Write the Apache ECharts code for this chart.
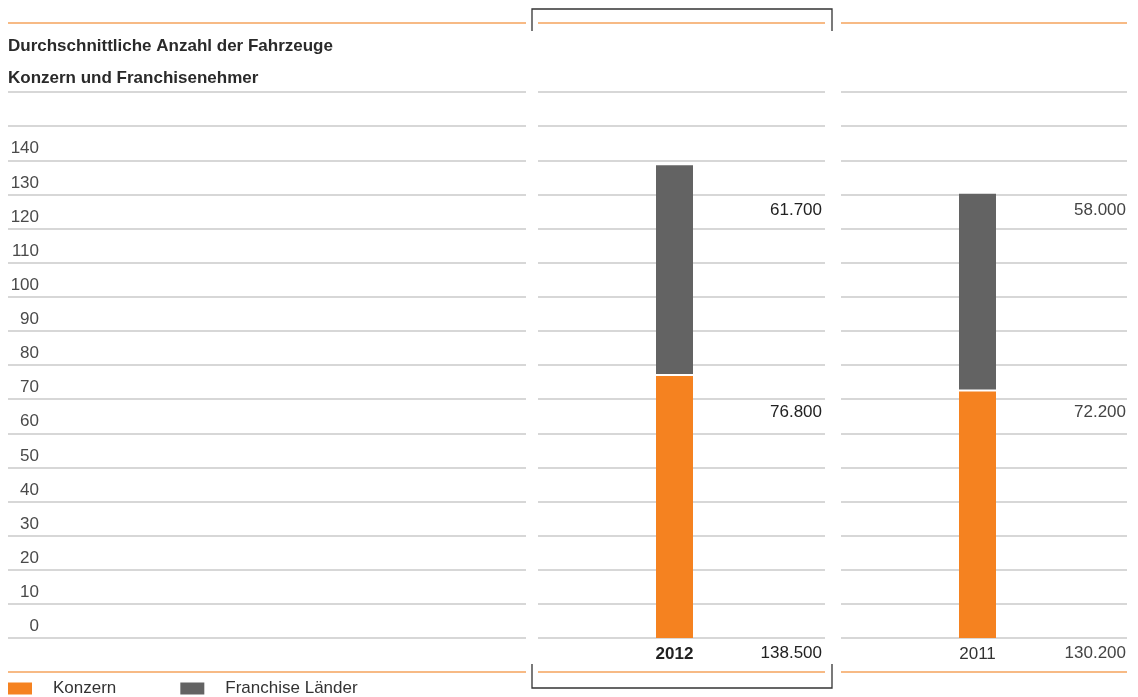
<!DOCTYPE html>
<html>
<head>
<meta charset="utf-8">
<script src="https://cdn.jsdelivr.net/npm/echarts@6/dist/echarts.min.js"></script>
<style>
  html, body { margin: 0; padding: 0; background: #fff; }
  #chart { width: 1138px; height: 697px; }
</style>
</head>
<body>
<div id="chart"></div>
<script>
// Fahrzeuge (Anzahl), je Jahr
const years = ['2012', '2011']
const konzern = [76800, 72200]
const franchise = [61700, 58000]
const seriesNames = ['Konzern', 'Franchise Länder']
const titleLines = ['Durchschnittliche Anzahl der Fahrzeuge', 'Konzern und Franchisenehmer']
// Achse in Tausend
const axisMax = 160
const axisStep = 10
const labelMax = 140

const ORANGE = '#f58220'
const GREY = '#636363'
const LINE_ORANGE = '#f5a35c'
const GRID_GREY = '#cacaca'
const FONT = 'Liberation Sans, Arial, sans-serif'

function fmt(n) {
  return String(n).replace(/\B(?=(\d{3})+(?!\d))/g, '.')
}

// Panels: left axis panel, one panel per year
const panelLeft = [538, 841]
const panelRight = [825, 1127]
const gridTop = 92
const gridBottom = 697 - 638

let grids = [{ left: 8, width: 518, top: gridTop, bottom: gridBottom }]
panelLeft.forEach((l, i) => {
  grids.push({ left: l, width: panelRight[i] - l, top: gridTop, bottom: gridBottom })
})
// bar grids, narrower so the bar sits a bit left of the panel centre
panelLeft.forEach(l => {
  grids.push({ left: l, width: 273, top: gridTop, bottom: gridBottom })
})

let xAxes = []
let yAxes = []
for (let i = 0; i < 3; i++) {
  xAxes.push({ type: 'value', gridIndex: i, show: false, min: 0, max: 1 })
  yAxes.push({
    type: 'value', gridIndex: i, min: 0, max: axisMax, interval: axisStep,
    axisLine: { show: false }, axisTick: { show: false },
    splitLine: { show: true, lineStyle: { color: GRID_GREY, width: 1.5 } },
    axisLabel: {
      show: i === 0, inside: true, margin: 31, align: 'right', verticalAlign: 'bottom',
      padding: [0, 0, 3, 0], fontSize: 17, fontFamily: FONT, color: '#4a4a4a',
      formatter: v => (v <= labelMax ? String(v) : '')
    }
  })
}
years.forEach((y, i) => {
  xAxes.push({
    type: 'category', gridIndex: 3 + i, data: [y],
    axisLine: { show: false }, axisTick: { show: false },
    axisLabel: {
      margin: 8, fontSize: 17, fontFamily: FONT,
      fontWeight: i === 0 ? 'bold' : 'normal', color: i === 0 ? '#222' : '#333'
    }
  })
  yAxes.push({ type: 'value', gridIndex: 3 + i, min: 0, max: axisMax, show: false, splitLine: { show: false } })
})

let series = []
years.forEach((y, i) => {
  series.push({
    name: seriesNames[0], type: 'bar', stack: 's' + i, barWidth: 37,
    xAxisIndex: 3 + i, yAxisIndex: 3 + i, z: 4,
    itemStyle: { color: ORANGE, shadowColor: '#fff', shadowBlur: 0, shadowOffsetY: -2 },
    data: [konzern[i] / 1000]
  })
  series.push({
    name: seriesNames[1], type: 'bar', stack: 's' + i, barWidth: 37,
    xAxisIndex: 3 + i, yAxisIndex: 3 + i, z: 3,
    itemStyle: { color: GREY },
    data: [franchise[i] / 1000]
  })
})

// table text: values right aligned in each panel
let graphics = []
const textRows = [[franchise, 212], [konzern, 414]]
years.forEach((y, i) => {
  const color = i === 0 ? '#222' : '#444'
  const r = 1138 - panelRight[i] + (i === 0 ? 3 : 1)
  textRows.forEach(([arr, ty]) => {
    graphics.push({
      type: 'text', right: r, top: ty - 10,
      style: { text: fmt(arr[i]), font: '17px ' + FONT, fill: color }
    })
  })
  graphics.push({
    type: 'text', right: r, top: 645,
    style: { text: fmt(konzern[i] + franchise[i]), font: '17px ' + FONT, fill: color }
  })
})

// orange rules top and bottom
const ruleX = [[8, 526], [538, 825], [841, 1127]]
ruleX.forEach(([a, b]) => {
  ;[23, 672].forEach(yy => {
    graphics.push({
      type: 'line', shape: { x1: a, y1: yy, x2: b, y2: yy },
      style: { stroke: LINE_ORANGE, lineWidth: 1.5 }
    })
  })
})
// bracket around 2012 column
graphics.push({
  type: 'polyline', shape: { points: [[532, 31], [532, 9], [832, 9], [832, 31]] },
  style: { stroke: '#333', lineWidth: 1.3, fill: null }
})
graphics.push({
  type: 'polyline', shape: { points: [[532, 664], [532, 688], [832, 688], [832, 664]] },
  style: { stroke: '#333', lineWidth: 1.3, fill: null }
})

const option = {
  animation: false,
  title: titleLines.map((t, i) => ({
    text: t, left: 3, top: 33 + i * 32,
    textStyle: { fontSize: 17, fontWeight: 'bold', fontFamily: FONT, color: '#2a2a2a' }
  })),
  legend: {
    left: 8, top: 680, padding: 0, itemWidth: 24, itemHeight: 12, itemGap: 64,
    icon: 'rect',
    data: seriesNames,
    textStyle: { fontSize: 17, fontFamily: FONT, color: '#333', padding: [0, 0, 0, 16] }
  },
  grid: grids,
  xAxis: xAxes,
  yAxis: yAxes,
  series: series,
  graphic: graphics
}

let chart = echarts.init(document.getElementById('chart'))
chart.setOption(option)
</script>
</body>
</html>
